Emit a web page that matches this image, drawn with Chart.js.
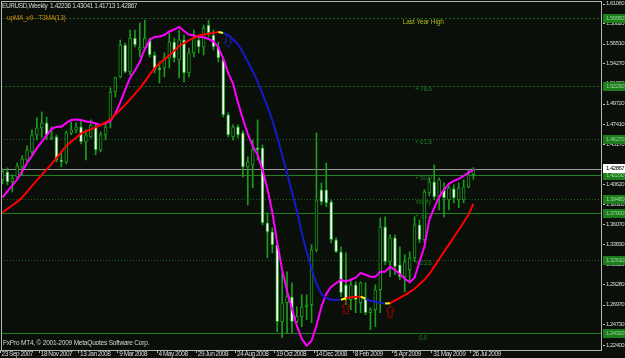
<!DOCTYPE html>
<html>
<head>
<meta charset="utf-8">
<script src="https://cdn.jsdelivr.net/npm/chart.js@4.4.1/dist/chart.umd.min.js"></script>
<style>
  html, body { margin: 0; padding: 0; background: #0a0f0a; }
  #wrap { width: 625px; height: 358px; }
</style>
</head>
<body>
<div id="wrap"><canvas id="canvas" width="625" height="358"></canvas></div>
<script>
// ---- chart values ----
const symbol = 'EURUSD,Weekly';
const indicatorName = 'upMA_v9 - T3MA(13)';
const copyright = 'FxPro MT4, \u00a9 2001-2009 MetaQuotes Software Corp.';

// one label every 8 weekly bars, first bar = 23 Sep 2007
const dateLabels = ['23 Sep 2007', '18 Nov 2007', '13 Jan 2008', '9 Mar 2008', '4 May 2008', '29 Jun 2008',
  '24 Aug 2008', '19 Oct 2008', '14 Dec 2008', '8 Feb 2009', '5 Apr 2009', '31 May 2009', '26 Jul 2009'];

const priceTicks = [1.61060, 1.58820, 1.56510, 1.54270, 1.51990, 1.49720, 1.47410, 1.45170, 1.40620,
  1.38380, 1.36070, 1.33830, 1.31520, 1.29280, 1.26970, 1.24730, 1.22400];

const opens = [1.4166, 1.4257, 1.4144, 1.4200, 1.4313, 1.4392, 1.4483, 1.4675, 1.4754, 1.4811,
  1.4630, 1.4653, 1.4392, 1.4370, 1.4698, 1.4732, 1.4766, 1.4596, 1.4653, 1.4766,
  1.4505, 1.4675, 1.4845, 1.5161, 1.5331, 1.5693, 1.5388, 1.5772, 1.5636, 1.5659,
  1.5750, 1.5580, 1.5433, 1.5433, 1.5546, 1.5727, 1.5523, 1.5750, 1.5376, 1.5603,
  1.5750, 1.5670, 1.5919, 1.5806, 1.5670, 1.5523, 1.4901, 1.4653, 1.4766, 1.4698,
  1.4313, 1.4336, 1.4528, 1.4528, 1.3680, 1.3578, 1.3431, 1.2560, 1.2775, 1.2843,
  1.2560, 1.2617, 1.2730, 1.2752, 1.3374, 1.4053, 1.4053, 1.3917, 1.3488, 1.3352,
  1.2979, 1.2809, 1.2979, 1.2775, 1.2832, 1.2662, 1.2696, 1.2922, 1.3635, 1.3239,
  1.3510, 1.3205, 1.3069, 1.3148, 1.3284, 1.3657, 1.3488, 1.4019, 1.4144, 1.3974,
  1.4053, 1.3940, 1.4064, 1.3940, 1.3940, 1.4087, 1.42236];
const highs = [1.4291, 1.4302, 1.4223, 1.4358, 1.4438, 1.4551, 1.4732, 1.4867, 1.4935, 1.4879,
  1.4766, 1.4675, 1.4472, 1.4720, 1.4822, 1.4811, 1.4845, 1.4732, 1.4845, 1.4811,
  1.4709, 1.4822, 1.5207, 1.5331, 1.5750, 1.5716, 1.5863, 1.5863, 1.5942, 1.5976,
  1.5772, 1.5614, 1.5501, 1.5603, 1.5829, 1.5772, 1.5863, 1.5806, 1.5659, 1.5863,
  1.5784, 1.5919, 1.5976, 1.5863, 1.5727, 1.5557, 1.4924, 1.4788, 1.4788, 1.4720,
  1.4426, 1.4619, 1.4845, 1.4562, 1.3793, 1.3623, 1.3454, 1.3114, 1.3126, 1.3001,
  1.2730, 1.2866, 1.2866, 1.3431, 1.4698, 1.4132, 1.4358, 1.3940, 1.3510, 1.3408,
  1.3341, 1.3035, 1.3013, 1.3013, 1.3001, 1.2719, 1.2979, 1.3736, 1.3748, 1.3544,
  1.3544, 1.3408, 1.3318, 1.3352, 1.3748, 1.3714, 1.4053, 1.4189, 1.4336, 1.4189,
  1.4132, 1.4098, 1.4110, 1.4132, 1.4166, 1.4279, 1.43041];
const lows = [1.4121, 1.4110, 1.4030, 1.4178, 1.4223, 1.4370, 1.4460, 1.4619, 1.4641, 1.4619,
  1.4619, 1.4370, 1.4313, 1.4347, 1.4675, 1.4698, 1.4573, 1.4392, 1.4641, 1.4449,
  1.4483, 1.4619, 1.4754, 1.5105, 1.5320, 1.5376, 1.5354, 1.5670, 1.5557, 1.5636,
  1.5557, 1.5376, 1.5263, 1.5331, 1.5433, 1.5501, 1.5320, 1.5275, 1.5331, 1.5557,
  1.5603, 1.5580, 1.5784, 1.5636, 1.5501, 1.4879, 1.4653, 1.4619, 1.4641, 1.4200,
  1.3883, 1.4076, 1.4392, 1.3657, 1.3284, 1.3341, 1.2447, 1.2379, 1.2436, 1.2436,
  1.2549, 1.2504, 1.2583, 1.2549, 1.3352, 1.3883, 1.3861, 1.3454, 1.3341, 1.2843,
  1.2752, 1.2696, 1.2662, 1.2662, 1.2640, 1.2470, 1.2504, 1.2662, 1.3205, 1.3069,
  1.3092, 1.3035, 1.2899, 1.3001, 1.3239, 1.3454, 1.3454, 1.3985, 1.3940, 1.3827,
  1.3748, 1.3827, 1.3906, 1.3850, 1.3906, 1.4076, 1.41713];
const closes = [1.4257, 1.4144, 1.4189, 1.4325, 1.4404, 1.4505, 1.4675, 1.4754, 1.4811, 1.4675,
  1.4653, 1.4392, 1.4370, 1.4698, 1.4732, 1.4766, 1.4596, 1.4675, 1.4788, 1.4505,
  1.4675, 1.4766, 1.5161, 1.5320, 1.5693, 1.5388, 1.5772, 1.5693, 1.5670, 1.5772,
  1.5580, 1.5410, 1.5410, 1.5557, 1.5727, 1.5546, 1.5750, 1.5376, 1.5603, 1.5772,
  1.5670, 1.5885, 1.5829, 1.5670, 1.5546, 1.4901, 1.4675, 1.4766, 1.4675, 1.4313,
  1.4370, 1.4505, 1.4505, 1.3680, 1.3578, 1.3431, 1.2560, 1.2775, 1.2843, 1.2560,
  1.2617, 1.2730, 1.2752, 1.3374, 1.3940, 1.3917, 1.3906, 1.3488, 1.3352, 1.2888,
  1.2809, 1.2979, 1.2809, 1.3001, 1.2662, 1.2696, 1.2922, 1.3635, 1.3239, 1.3510,
  1.3182, 1.3069, 1.3239, 1.3284, 1.3657, 1.3488, 1.4030, 1.4144, 1.3974, 1.4166,
  1.3963, 1.4076, 1.3963, 1.4076, 1.4087, 1.4223, 1.42867];

// upMA_v9 (magenta)
const maLine = [1.3968, 1.4036, 1.4103, 1.4170, 1.4262, 1.4358, 1.4438, 1.4525, 1.4596, 1.4670,
  1.4743, 1.4766, 1.4766, 1.4811, 1.4845, 1.4850, 1.4845, 1.4828, 1.4822, 1.4805,
  1.4788, 1.4805, 1.4834, 1.4918, 1.5043, 1.5184, 1.5320, 1.5405, 1.5501, 1.5648,
  1.5750, 1.5784, 1.5789, 1.5806, 1.5846, 1.5868, 1.5897, 1.5851, 1.5812, 1.5800,
  1.5784, 1.5780, 1.5761, 1.5735, 1.5665, 1.5540, 1.5376, 1.5252, 1.5043, 1.4856,
  1.4686, 1.4551, 1.4449, 1.4279, 1.4064, 1.3799, 1.3454, 1.3148, 1.2911, 1.2707,
  1.2515, 1.2368, 1.2289, 1.2345, 1.2515, 1.2730, 1.2877, 1.2956, 1.2996, 1.3033,
  1.3015, 1.3035, 1.3058, 1.3114, 1.3092, 1.3069, 1.3069, 1.3126, 1.3126, 1.3182,
  1.3148, 1.3097, 1.3047, 1.3007, 1.3058, 1.3239, 1.3408, 1.3714, 1.3850, 1.3974,
  1.4053, 1.4121, 1.4155, 1.4178, 1.4211, 1.4249, 1.4279];

// T3MA(13): red rising, blue falling, yellow on a turn
const t3Line = [1.3793, 1.3838, 1.3878, 1.3917, 1.3967, 1.4030, 1.4098, 1.4161, 1.4223, 1.4285,
  1.4347, 1.4412, 1.4483, 1.4551, 1.4599, 1.4643, 1.4689, 1.4716, 1.4737, 1.4760,
  1.4787, 1.4818, 1.4849, 1.4905, 1.4960, 1.5016, 1.5077, 1.5140, 1.5204, 1.5279,
  1.5357, 1.5427, 1.5483, 1.5529, 1.5577, 1.5627, 1.5682, 1.5713, 1.5744, 1.5774,
  1.5799, 1.5812, 1.5820, 1.5830, 1.5840, 1.5829, 1.5806, 1.5756, 1.5701, 1.5608,
  1.5504, 1.5399, 1.5279, 1.5143, 1.4999, 1.4841, 1.4656, 1.4449, 1.4240, 1.4030,
  1.3820, 1.3567, 1.3352, 1.3160, 1.2990, 1.2871, 1.2828, 1.2809, 1.2809, 1.2809,
  1.2826, 1.2837, 1.2841, 1.2845, 1.2820, 1.2798, 1.2786, 1.2775, 1.2767, 1.2769,
  1.2802, 1.2829, 1.2861, 1.2895, 1.2933, 1.2984, 1.3035, 1.3101, 1.3184, 1.3267,
  1.3352, 1.3433, 1.3517, 1.3601, 1.3683, 1.3775, 1.3895];

const upArrowBars = [70, 79];
const upArrowPrices = [1.2719, 1.2673];
const downArrowBars = [46];
const downArrowPrices = [1.5738];

const levelPrices = [1.5995, 1.5229, 1.4627, 1.4223, 1.3948, 1.3790, 1.3261, 1.2432];
const levelNames = ['Last Year High', '+ 78.6', '+ 61.8', '+ 50.0', 'Yearly', '+ 38.2', '+ 23.6', '0.0'];

// ---- styles ----
const BG = '#0a0f0a';
const GREEN = '#1c9c1c';
const FONT = "'Liberation Sans', 'DejaVu Sans', sans-serif";
const AXIS_SIZE = 6;
const TEXT_SIZE = 6.5;
const levelDash = [[2, 2], [2, 2], [1, 2], [], [1, 2], [], [1, 2], []];
const levelTextBar = [81.6, 84.1, 84.1, 84.1, 84.1, 84.1, 84.1, 84.9];
const levelTextDy = [4, 3.5, 3.5, 3.5, 3.5, 3.5, 3.5, 5];

const bars = closes.map((c, i) => i);
const lastBar = bars.length - 1;

// direction of each T3 step, flat steps keep the previous direction
const t3Dir = [];
for (let i = 0; i < t3Line.length - 1; i++) {
  const d = Math.sign(t3Line[i + 1] - t3Line[i]);
  t3Dir.push(d === 0 ? (i > 0 ? t3Dir[i - 1] : 1) : d);
}

function makeArrow(color, down) {
  const c = document.createElement('canvas');
  c.width = 9; c.height = 13;
  const g = c.getContext('2d');
  if (down) { g.translate(0, 13); g.scale(1, -1); }
  g.strokeStyle = color;
  g.lineWidth = 1;
  g.beginPath();
  g.moveTo(4.5, 0.5); g.lineTo(8.5, 5.5); g.lineTo(6.5, 5.5); g.lineTo(6.5, 12.5);
  g.lineTo(2.5, 12.5); g.lineTo(2.5, 5.5); g.lineTo(0.5, 5.5); g.closePath();
  g.stroke();
  return c;
}

function text(ctx, str, x, y, color, spacing) {
  ctx.letterSpacing = spacing;
  ctx.fillStyle = color;
  ctx.fillText(str, x, y);
}

const mt4Plugin = {
  id: 'mt4',
  beforeUpdate(chart) {
    chart.ctx.letterSpacing = '-0.5px';
  },
  beforeDraw(chart) {
    const ctx = chart.ctx;
    ctx.letterSpacing = '-0.5px';
    ctx.save();
    ctx.fillStyle = BG;
    ctx.fillRect(0, 0, chart.width, chart.height);
    ctx.restore();
  },
  beforeDatasetsDraw(chart) {
    const {ctx, chartArea: a, scales: {x, y}} = chart;
    ctx.save();
    ctx.beginPath();
    ctx.rect(a.left, a.top, a.right - a.left, a.bottom - a.top);
    ctx.clip();
    ctx.lineWidth = 1;
    levelPrices.forEach((p, k) => {
      const py = Math.round(y.getPixelForValue(p)) + 0.5;
      ctx.strokeStyle = levelDash[k].length ? '#1a641a' : '#228022';
      ctx.setLineDash(levelDash[k]);
      ctx.beginPath();
      ctx.moveTo(a.left, py);
      ctx.lineTo(a.right, py);
      ctx.stroke();
    });
    ctx.setLineDash([]);
    const by = Math.round(y.getPixelForValue(closes[lastBar])) + 0.5;
    ctx.strokeStyle = '#9a9a9a';
    ctx.beginPath();
    ctx.moveTo(a.left, by);
    ctx.lineTo(a.right, by);
    ctx.stroke();

    ctx.font = TEXT_SIZE + 'px ' + FONT;
    ctx.textBaseline = 'middle';
    levelNames.forEach((t, k) => {
      text(ctx, t, x.getPixelForValue(levelTextBar[k]), y.getPixelForValue(levelPrices[k]) + levelTextDy[k],
        k === 0 ? '#b8b81e' : '#1f7d1f', k === 0 ? '-0.1px' : '-0.3px');
    });
    ctx.restore();
  },
  afterDraw(chart) {
    const {ctx, chartArea: a, scales: {y}} = chart;
    ctx.save();
    ctx.font = TEXT_SIZE + 'px ' + FONT;
    ctx.textBaseline = 'middle';
    const f = v => v.toFixed(5);
    text(ctx, symbol + '  ' + f(opens[lastBar]) + ' ' + f(highs[lastBar]) + ' ' + f(lows[lastBar]) + ' ' + f(closes[lastBar]),
      2, 6, '#d8d8d8', '-0.4px');
    text(ctx, copyright, 3, 343, '#d8d8d8', '-0.2px');
    text(ctx, indicatorName, 7, 18.5, '#d08a10', '-0.2px');

    // plot frame
    ctx.strokeStyle = '#b4b4b4';
    ctx.lineWidth = 1;
    ctx.strokeRect(a.left + 0.5, a.top + 0.5, a.right - a.left, a.bottom - a.top);

    // small dashes next to the price labels
    ctx.strokeStyle = '#c8c8c8';
    priceTicks.forEach(v => {
      const py = Math.round(y.getPixelForValue(v) - 5) + 0.5;
      ctx.beginPath();
      ctx.moveTo(a.right + 2, py);
      ctx.lineTo(a.right + 4, py);
      ctx.stroke();
    });

    // price boxes on the axis
    ctx.font = AXIS_SIZE + 'px ' + FONT;
    levelPrices.forEach(p => {
      const py = Math.round(y.getPixelForValue(p));
      ctx.fillStyle = '#1d7d1d';
      ctx.fillRect(a.right + 2, py - 4, 23, 9);
      text(ctx, f(p), a.right + 5, py + 0.5, '#8fd08f', '-0.5px');
    });
    const by = Math.round(y.getPixelForValue(closes[lastBar]));
    ctx.fillStyle = '#ffffff';
    ctx.fillRect(a.right + 2, by - 5, 23, 9);
    text(ctx, f(closes[lastBar]), a.right + 5, by - 0.5, '#000000', '-0.5px');
    ctx.restore();
  }
};

Chart.defaults.font.family = FONT;
Chart.defaults.font.size = AXIS_SIZE;

const chart = new Chart(document.getElementById('canvas').getContext('2d'), {
  type: 'bar',
  data: {
    datasets: [
      {
        label: 'wick',
        data: bars.map(i => ({x: i, y: [lows[i], highs[i]]})),
        backgroundColor: GREEN,
        barThickness: 1,
        grouped: false,
        order: 5
      },
      {
        label: 'body',
        data: bars.map(i => ({x: i, y: [opens[i], closes[i]]})),
        backgroundColor: bars.map(i => closes[i] < opens[i] ? '#ffffff' : BG),
        borderColor: GREEN,
        borderWidth: 1,
        borderSkipped: false,
        barThickness: 3,
        grouped: false,
        order: 4
      },
      {
        type: 'line',
        label: 'upMA_v9',
        data: bars.map(i => ({x: i, y: maLine[i]})),
        borderColor: '#ff00ff',
        borderWidth: 2,
        pointRadius: 0,
        order: 2
      },
      {
        type: 'line',
        label: 'T3MA(13)',
        data: bars.map(i => ({x: i, y: t3Line[i]})),
        borderColor: '#ff0000',
        borderWidth: 2,
        pointRadius: 0,
        order: 1,
        segment: {
          borderColor: ctx => {
            const i = ctx.p0DataIndex;
            if (i > 0 && t3Dir[i] !== t3Dir[i - 1]) return '#ffff00';
            return t3Dir[i] > 0 ? '#ff0000' : '#1818c8';
          }
        }
      },
      {
        type: 'line',
        label: 'up',
        data: upArrowBars.map((b, k) => ({x: b, y: upArrowPrices[k]})),
        showLine: false,
        pointStyle: makeArrow('#b00000', false),
        pointRadius: 5,
        order: 0
      },
      {
        type: 'line',
        label: 'down',
        data: downArrowBars.map((b, k) => ({x: b, y: downArrowPrices[k]})),
        showLine: false,
        pointStyle: makeArrow('#2424a8', true),
        pointRadius: 5,
        order: 0
      }
    ]
  },
  options: {
    responsive: false,
    devicePixelRatio: 1,
    animation: false,
    events: [],
    layout: {autoPadding: false, padding: {top: 1, left: 1, right: 0, bottom: 0}},
    plugins: {legend: {display: false}, tooltip: {enabled: false}},
    scales: {
      x: {
        type: 'linear',
        min: -0.306,
        max: 122.0,
        offset: false,
        afterFit: s => {
          s.height = 8;
          s.paddingLeft = 0; s.paddingRight = 0; s.paddingTop = 0; s.paddingBottom = 0;
        },
        afterBuildTicks: s => { s.ticks = dateLabels.map((d, k) => ({value: k * 8 - 0.5})); },
        grid: {display: true, offset: false, drawOnChartArea: false, drawTicks: true, tickLength: 3, color: '#b4b4b4'},
        border: {display: false},
        ticks: {
          autoSkip: false,
          maxRotation: 0,
          align: 'start',
          labelOffset: 1.5,
          padding: -3,
          color: '#d8d8d8',
          font: {size: 6.5},
          callback: (v, idx) => dateLabels[idx]
        }
      },
      y: {
        type: 'linear',
        position: 'right',
        min: 1.2240,
        max: 1.6191,
        afterFit: s => {
          s.width = 24;
          s.paddingLeft = 0; s.paddingRight = 0; s.paddingTop = 0; s.paddingBottom = 0;
        },
        afterBuildTicks: s => { s.ticks = priceTicks.map(v => ({value: v})); },
        grid: {display: false, drawTicks: false},
        border: {display: false},
        ticks: {
          autoSkip: false,
          padding: 5,
          labelOffset: -5,
          color: '#d8d8d8',
          callback: v => v.toFixed(5)
        }
      }
    }
  },
  plugins: [mt4Plugin]
});
</script>
</body>
</html>
